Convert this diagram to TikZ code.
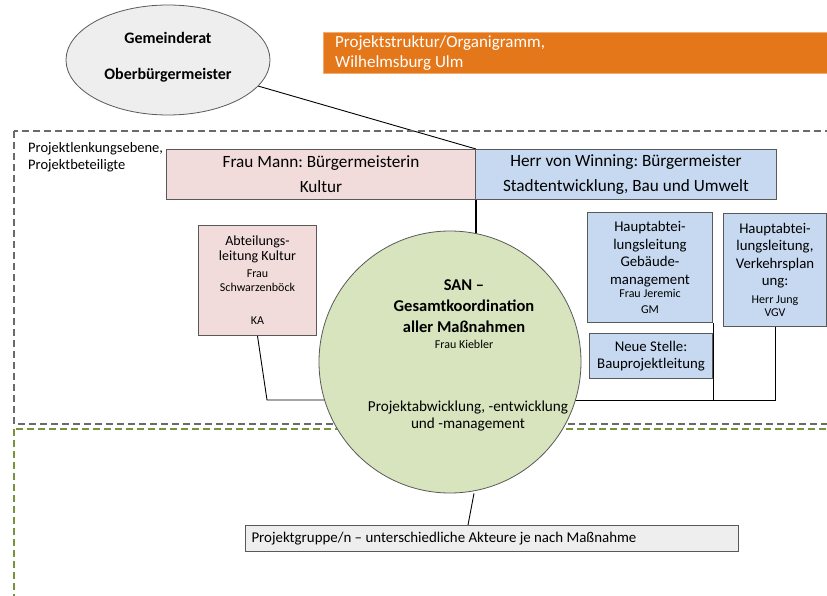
\documentclass[tikz,border=0pt]{standalone}
\usepackage{fontspec}
\setmainfont{Carlito}
\usetikzlibrary{shapes.geometric,backgrounds}
\definecolor{orga}{HTML}{E47719}
\definecolor{rosa}{HTML}{F2DCDB}
\definecolor{blau}{HTML}{C6D9F1}
\definecolor{gruen}{HTML}{D7E4BD}
\definecolor{hellgrau}{HTML}{EEEEEE}
\definecolor{rahmen}{HTML}{595959}
\definecolor{oliv}{HTML}{77933C}
\frenchspacing
\newcommand\fgross{\fontsize{17.2}{25}\selectfont}
\newcommand\fmittel{\fontsize{14.8}{17.5}\selectfont}
\newcommand\fklein{\fontsize{12}{14.5}\selectfont}
\tikzset{
  box/.style={draw=rahmen, line width=1pt, inner sep=0pt, align=flush center, anchor=north west},
  rahmenlinie/.style={line width=1.6pt, dash pattern=on 7pt off 4pt},
  verbindung/.style={draw=black, line width=0.9pt}
}

\begin{document}
\begin{tikzpicture}[x=1pt,y=-1pt]
  \useasboundingbox (0,0) rectangle (827,596);
  % Ebenen
  \draw[rahmenlinie, draw=rahmen!90] (14,131) rectangle (845,424);
  \draw[rahmenlinie, draw=oliv] (14,429) rectangle (845,620);
  % Kopf
  \node[ellipse, draw=rahmen, fill=hellgrau, line width=0.8pt, minimum width=204, minimum height=110,
        font=\bfseries\fontsize{16}{36}\selectfont, align=center] (ob) at (168,60)
        {Gemeinderat\\Oberbürgermeister\\[-28pt]};
  \node[anchor=north west, fill=orga, draw=orga!60, inner xsep=12pt, inner ysep=0pt, text width=500,
        minimum height=41, align=flush left, text=white, font=\fontsize{17}{20}\selectfont] (titel) at (323,32)
        {Projektstruktur/Organigramm,\\Wilhelmsburg Ulm};
  \node[anchor=north west, align=flush left, inner sep=0pt, font=\fontsize{14.5}{17}\selectfont] (ebene) at (28,142)
        {Projektlenkungsebene,\\Projektbeteiligte};
  % Lenkung
  \node[box, fill=rosa, text width=309, minimum height=50, font=\fgross] (mann) at (166,149)
        {Frau Mann: Bürgermeisterin\\Kultur};
  \node[box, fill=blau, text width=301, minimum height=50, font=\fgross] (winning) at (475,149)
        {Herr von Winning: Bürgermeister\\Stadtentwicklung, Bau und Umwelt};
  \node[box, fill=rosa, text width=118, minimum height=110, font=\fontsize{14}{16}\selectfont] (abt) at (198,225)
        {Abteilungs-\\[-1pt]leitung Kultur\\[1pt]{\fklein Frau}\\[-2pt]{\fklein Schwarzenböck}\\[17pt]{\fklein KA}};
  \node[box, fill=blau, text width=125, minimum height=110, font=\fmittel] (gm) at (587,212)
        {Hauptabtei-\\lungsleitung\\Gebäude-\\management\\[-4pt]{\fklein Frau Jeremic}\\[-2pt]{\fklein GM}};
  \node[box, fill=blau, text width=123, minimum height=45, font=\fmittel] (bau) at (589,333)
        {Neue Stelle:\\Bauprojektleitung};
  \node[box, fill=blau, text width=103, minimum height=113, font=\fmittel] (vgv) at (723,213)
        {Hauptabtei-\\lungsleitung,\\Verkehrsplan\\ung:\\{\fklein Herr Jung}\\[-4pt]{\fklein VGV}};
  % Koordination
  \node[circle, draw=rahmen, fill=gruen, line width=0.8pt, minimum size=262] (san) at (450,362) {};
  \node[align=flush center, font=\bfseries\fontsize{16.5}{21}\selectfont] (santxt) at (464,314)
        {SAN –\\Gesamtkoordination\\aller Maßnahmen\\[-5pt]{\mdseries\fklein Frau Kiebler}};
  \node[align=flush center, font=\fontsize{15.2}{17}\selectfont] (abw) at (468,416)
        {Projektabwicklung, -entwicklung\\und -management};
  \node[box, fill=hellgrau, text width=481, inner xsep=6pt, minimum height=26, align=flush left,
        font=\fontsize{14.9}{16}\selectfont] (pg) at (245,525)
        {Projektgruppe/n – unterschiedliche Akteure je nach Maßnahme};
  % Verbindungen
  \begin{scope}[on background layer]
    \coordinate (kl) at (267,400);
    \coordinate (kr) at (775,400);
    \draw[verbindung] (ob) -- (mann.north east);
    \draw[verbindung, line width=1.8pt] (mann.south east) -- (mann.south east |- san.center);
    \draw[verbindung] (abt.south) -- (kl) -- (kl -| san.center);
    \draw[verbindung] (vgv.south) -- (kr) -- (kr -| san.center);
    \draw[verbindung] (gm.south east) -- (gm.south east |- kr);
    \draw[verbindung] ([xshift=-24pt]pg.north) -- ([xshift=-18pt]pg.north |- san.south);
  \end{scope}
\end{tikzpicture}
\end{document}
